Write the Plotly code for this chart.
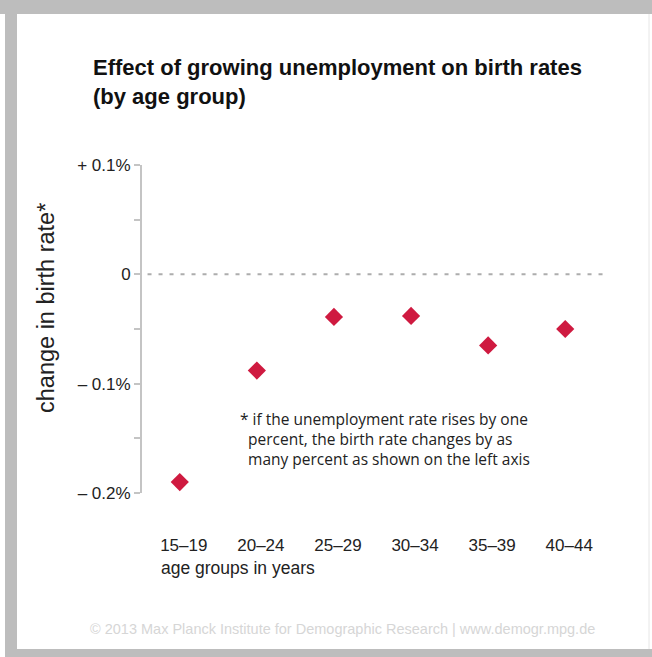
import plotly.graph_objects as go

# ---- data ----
age_groups = ["15–19", "20–24", "25–29", "30–34", "35–39", "40–44"]
change_pct = [-0.190, -0.088, -0.039, -0.038, -0.065, -0.050]
y_tick_vals = [-0.2, -0.15, -0.1, -0.05, 0, 0.05, 0.1]
y_tick_text = ["– 0.2%", "", "– 0.1%", "", "0", "", "+ 0.1%"]
note_lines = [
    "* if the unemployment rate rises by one",
    "&nbsp;&nbsp;percent, the birth rate changes by as",
    "&nbsp;&nbsp;many percent as shown on the left axis",
]

W, H = 652, 657
L, R, T, B = 142, 49, 165, 164
PW, PH = W - L - R, H - T - B


def px(x):
    return (x - L) / PW


def py(y):
    return (H - B - y) / PH


RED = "#cf1a40"
AX = "#c4c4c4"
TXT = "#222222"
SANS = "Liberation Sans, Arial, sans-serif"

fig = go.Figure()
fig.add_trace(go.Scatter(
    x=list(range(len(age_groups))), y=change_pct, mode="markers",
    marker=dict(symbol="diamond", size=14, color=RED, line=dict(width=0)),
    cliponaxis=False, hoverinfo="skip", showlegend=False))

shapes = [
    dict(type="line", xref="paper", yref="y", x0=0.012, x1=1, y0=0, y1=0,
         line=dict(color="#adadad", width=2, dash="4px,7px"), layer="below"),
    dict(type="rect", xref="paper", yref="paper", x0=px(0), x1=px(W), y0=py(0), y1=py(14),
         fillcolor="#bdbdbd", line=dict(width=0), layer="below"),
    dict(type="rect", xref="paper", yref="paper", x0=px(5), x1=px(17), y0=py(0), y1=py(H),
         fillcolor="#bdbdbd", line=dict(width=0), layer="below"),
    dict(type="rect", xref="paper", yref="paper", x0=px(5), x1=px(W), y0=py(649), y1=py(H),
         fillcolor="#bdbdbd", line=dict(width=0), layer="below"),
    dict(type="line", xref="paper", yref="paper", x0=px(649), x1=px(649), y0=py(14), y1=py(649),
         line=dict(color="#e6e6e6", width=1), layer="below"),
]

annotations = [
    dict(text="<b>Effect of growing unemployment on birth rates<br>(by age group)</b>",
         x=px(91), y=py(53), xref="paper", yref="paper", xanchor="left", yanchor="top",
         align="left", showarrow=False,
         font=dict(family=SANS, size=22, color="#111111")),
    dict(text="change in birth rate*", x=px(46), y=py(308), xref="paper", yref="paper",
         textangle=-90, showarrow=False, xanchor="center", yanchor="middle",
         font=dict(family=SANS, size=23.5, color=TXT)),
    dict(text="age groups in years", x=px(159), y=py(568), xref="paper", yref="paper",
         xanchor="left", yanchor="middle", showarrow=False,
         font=dict(family=SANS, size=17.5, color=TXT)),
    dict(text="© 2013 Max Planck Institute for Demographic Research | www.demogr.mpg.de",
         x=px(88), y=py(629), xref="paper", yref="paper", xanchor="left", yanchor="middle",
         showarrow=False,
         font=dict(family=SANS, size=14.5, color="#d6d6d6")),
    dict(text="<br>".join(note_lines), x=px(238), y=py(439), xref="paper", yref="paper",
         xanchor="left", yanchor="middle", align="left", showarrow=False,
         font=dict(family="Open Sans, sans-serif", size=15.5, color=TXT)),
]

fig.update_layout(
    width=W, height=H, margin=dict(l=L, r=R, t=T, b=B),
    paper_bgcolor="white", plot_bgcolor="white",
    shapes=shapes, annotations=annotations, showlegend=False,
    xaxis=dict(range=[-0.49, 5.49], tickvals=list(range(len(age_groups))),
               ticktext=age_groups, showgrid=False, zeroline=False, showline=False,
               ticks="", ticklabelstandoff=40, ticklabelshift=4,
               tickfont=dict(family=SANS, size=17, color=TXT),
               fixedrange=True),
    yaxis=dict(range=[-0.2, 0.1], tickvals=y_tick_vals, ticktext=y_tick_text,
               showgrid=False, zeroline=False, showline=True, linecolor=AX, linewidth=2,
               ticks="outside", ticklen=6, tickwidth=2, tickcolor=AX,
               tickfont=dict(family=SANS, size=17, color=TXT),
               fixedrange=True),
)

fig.write_html(
    "out.html",
    config={"displayModeBar": False},
    post_script="document.body.style.margin='0';document.body.style.overflow='hidden';",
)
